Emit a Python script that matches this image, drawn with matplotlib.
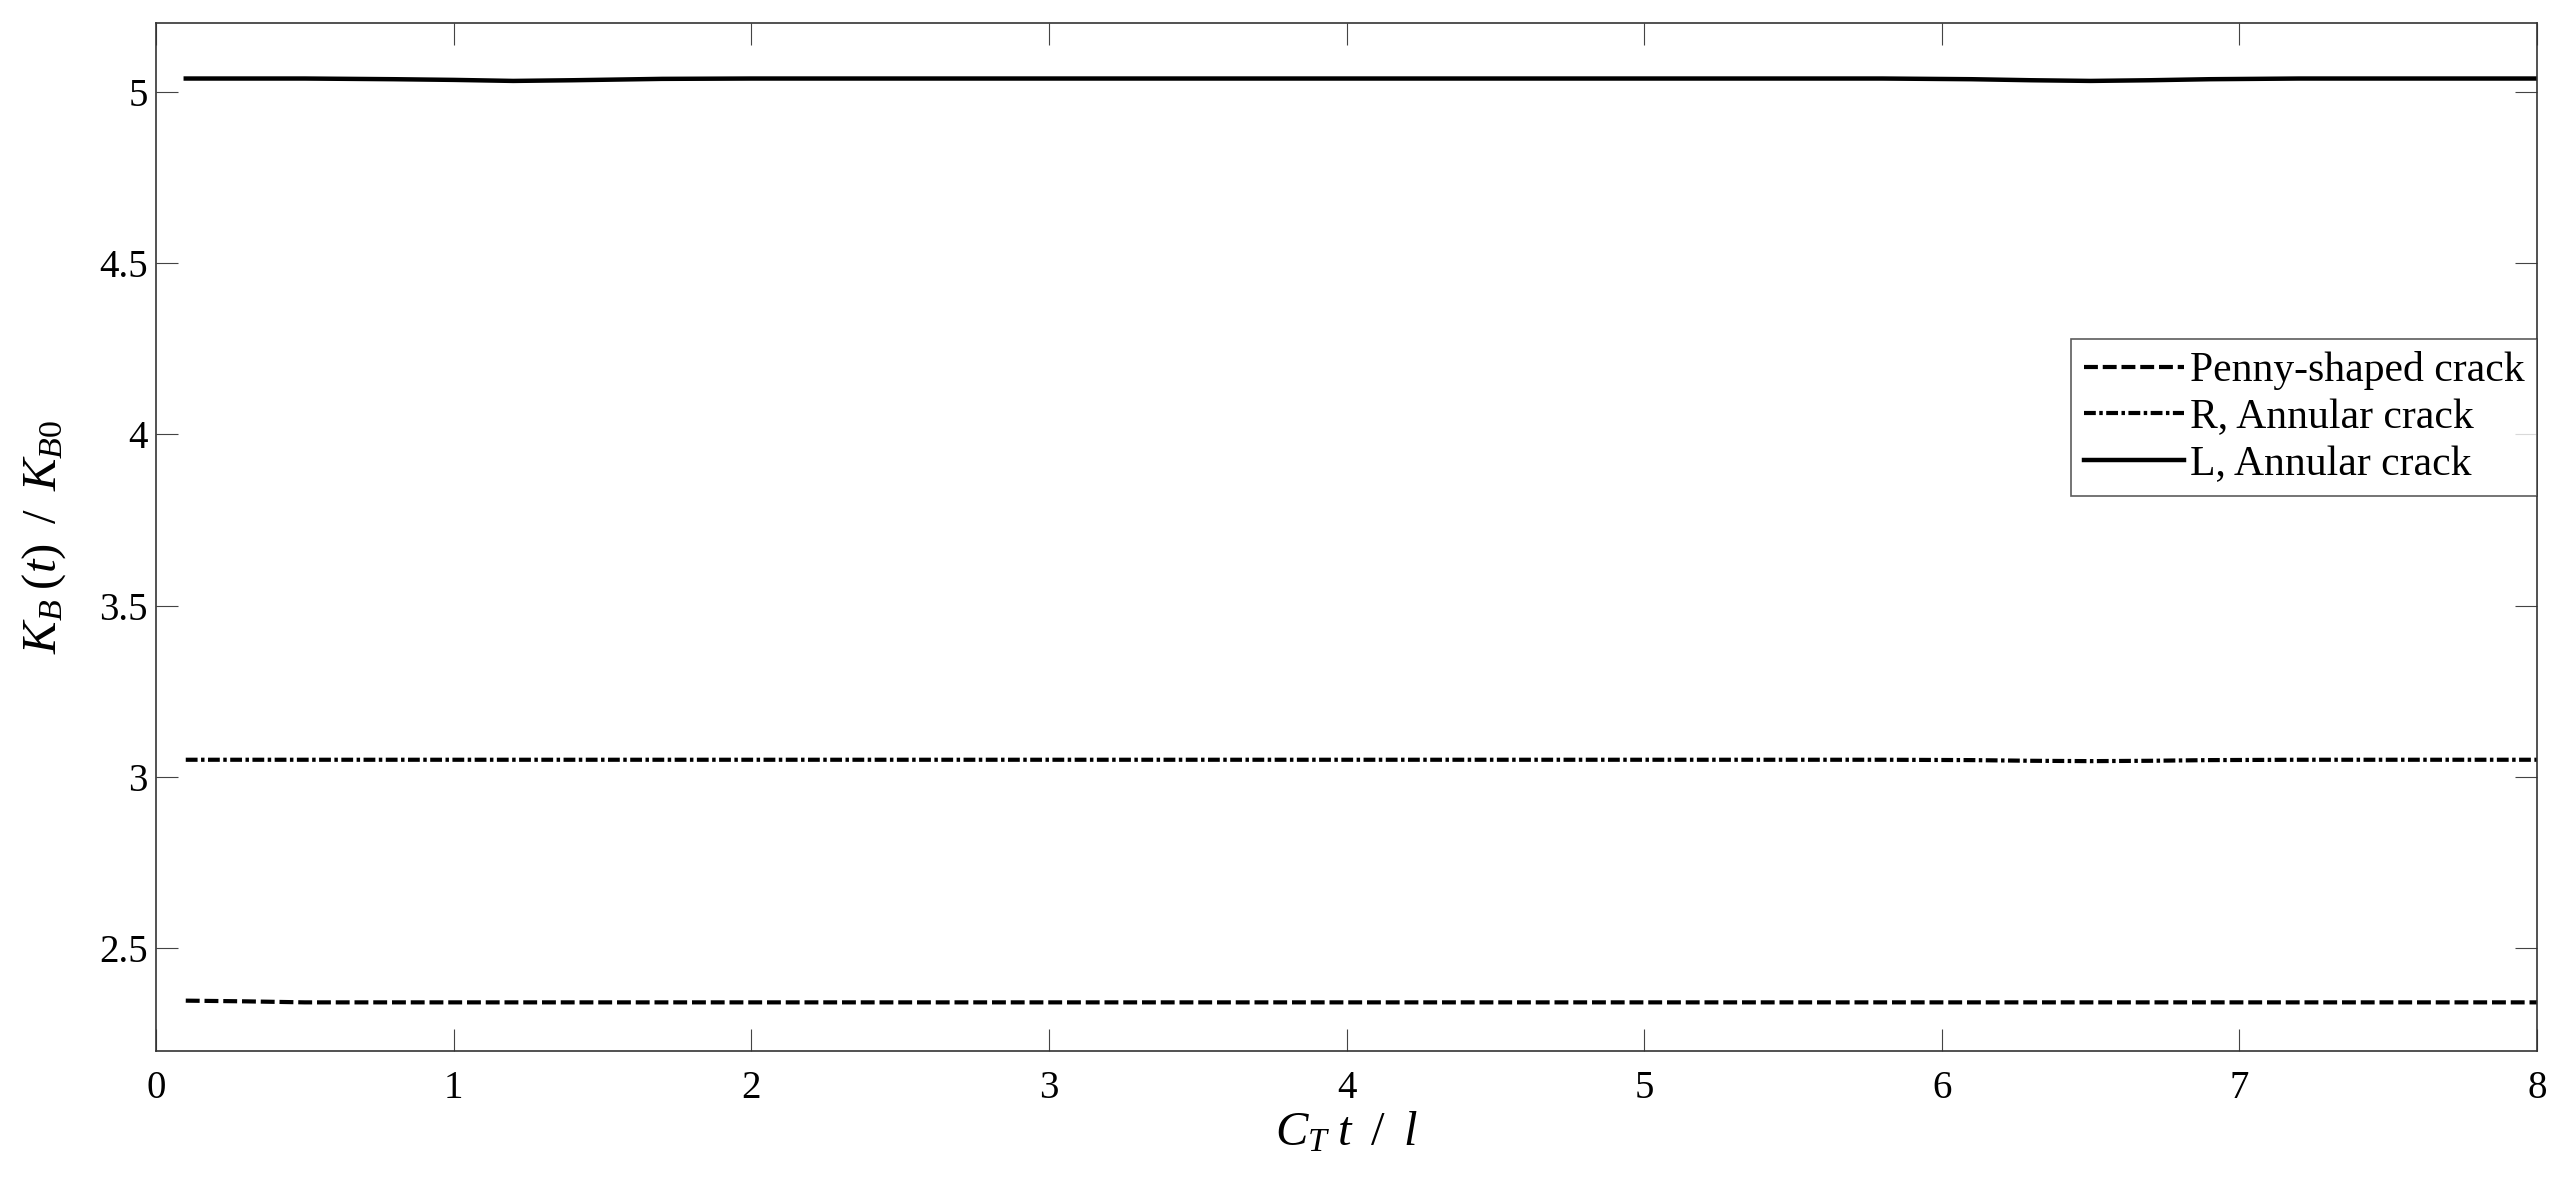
import matplotlib
matplotlib.use("Agg")
import matplotlib.pyplot as plt

# values
t = [0.1, 0.3, 0.5, 0.8, 1.0, 1.2, 1.4, 1.7, 2.0, 3.0, 4.0, 5.0, 5.8, 6.1, 6.3, 6.5, 6.7, 6.9, 7.2, 7.6, 8.0]
penny = [2.347, 2.345, 2.342, 2.342, 2.342, 2.342, 2.342, 2.342, 2.342, 2.342, 2.342,
         2.342, 2.342, 2.342, 2.342, 2.342, 2.342, 2.342, 2.342, 2.342, 2.342]
r_annular = [3.050, 3.050, 3.050, 3.050, 3.050, 3.050, 3.050, 3.050, 3.050, 3.050, 3.050,
             3.050, 3.050, 3.049, 3.047, 3.046, 3.047, 3.049, 3.050, 3.050, 3.050]
l_annular = [5.038, 5.038, 5.038, 5.036, 5.034, 5.031, 5.033, 5.037, 5.038, 5.038, 5.038,
             5.038, 5.038, 5.036, 5.033, 5.031, 5.033, 5.036, 5.038, 5.038, 5.038]
labels = ["Penny-shaped crack", "R, Annular crack", "L, Annular crack"]
xticks = [0, 1, 2, 3, 4, 5, 6, 7, 8]
yticks = [2.5, 3, 3.5, 4, 4.5, 5]

plt.rcParams["font.family"] = ["Liberation Serif", "DejaVu Serif"]
plt.rcParams["mathtext.fontset"] = "custom"
plt.rcParams["mathtext.rm"] = "Liberation Serif"
plt.rcParams["mathtext.it"] = "Liberation Serif:italic"
plt.rcParams["lines.scale_dashes"] = False

fig = plt.figure(figsize=(25.7, 11.8), dpi=100)
ax = fig.add_axes([0.0607, 0.1093, 0.9265, 0.8712])

ax.plot(t, penny, color="black", lw=3, dashes=(10, 3.5), label=labels[0])
ax.plot(t, r_annular, color="black", lw=3, dashes=(8.5, 2.5, 2.5, 2.5), label=labels[1])
ax.plot(t, l_annular, color="black", lw=3.2, label=labels[2])

ax.set_xlim(0, 8)
ax.set_ylim(2.2, 5.2)
ax.set_xticks(xticks)
ax.set_yticks(yticks)
ax.set_yticklabels(["2.5", "3", "3.5", "4", "4.5", "5"])

ax.tick_params(direction="in", length=16, width=0.8, labelsize=28,
               top=True, right=True, color="#444444")
ax.tick_params(axis="x", pad=14)
ax.tick_params(axis="y", pad=6)
for s in ax.spines.values():
    s.set_linewidth(1.2)
    s.set_color("#333333")

ax.set_xlabel(r"$C_{T\,}\,t\;\;/\;\;l$", fontsize=35)
ax.xaxis.set_label_coords(0.5, -0.058)
ax.set_ylabel(r"$K_{B\,}\,(t)\;\;/\;\;K_{B0}$", fontsize=35)
ax.yaxis.set_label_coords(-0.037, 0.5)

leg = ax.legend(loc="upper right", bbox_to_anchor=(1.0, 0.693), borderaxespad=0,
                fontsize=30, frameon=True, fancybox=False, handlelength=2.4,
                handletextpad=0.15, labelspacing=0.2, borderpad=0.3)
leg.get_frame().set_edgecolor("#333333")
leg.get_frame().set_linewidth(1.2)

fig.savefig("out.png", dpi=100)
